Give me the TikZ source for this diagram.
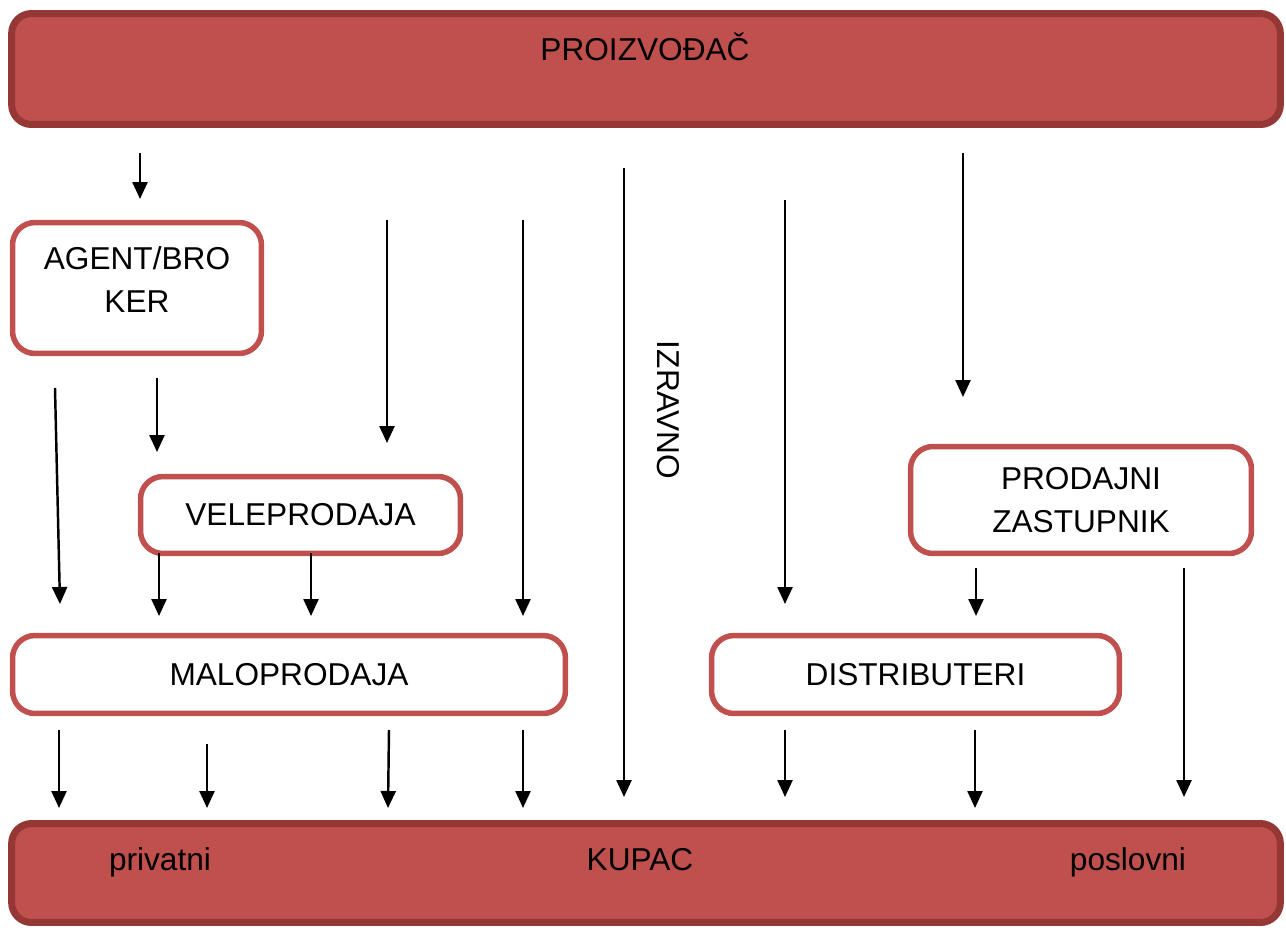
\documentclass[tikz,border=0pt]{standalone}
\usepackage{fontspec}
\setmainfont{Liberation Sans}
\usetikzlibrary{arrows.meta,shadows}

\definecolor{barFill}{HTML}{C0504D}
\definecolor{barEdge}{HTML}{953735}
\definecolor{boxEdge}{HTML}{C0504D}

\begin{document}
\begin{tikzpicture}[x=0.02cm, y=-0.02cm,
  every node/.style={font=\fontsize{18}{24.5}\selectfont, inner sep=0pt, outer sep=0pt},
  bar/.style={draw=barEdge, fill=barFill, line width=0.14cm, rounded corners=0.4cm,
    drop shadow={shadow xshift=0pt, shadow yshift=-0.07cm, fill=black!30, opacity=0.6}},
  box/.style={draw=boxEdge, fill=white, line width=0.11cm, rounded corners=0.45cm, align=center},
  flow/.style={-{Triangle[length=0.34cm,width=0.3cm]}, line width=1.4pt}]
\useasboundingbox (0,0) rectangle (1286,930);

% bars
\node[bar, minimum width=25.38cm, minimum height=2.22cm] (prod) at (646,69) {};
\node[anchor=base] (prodText) at (645,60) {PROIZVOĐAČ};

\node[bar, minimum width=25.38cm, minimum height=1.98cm] (kupac) at (646,873) {};
\node[anchor=base] (kupacText) at (640,870) {KUPAC};
\node[anchor=base] (privatni) at (160,870) {privatni};
\node[anchor=base] (poslovni) at (1128,870) {poslovni};

% boxes
\node[box, minimum width=4.98cm, minimum height=2.62cm] (agent) at (137,288) {};
\node[align=center] (agentText) at (137,280) {AGENT/BRO\\KER};
\node[box, minimum width=6.4cm, minimum height=1.54cm] (vele) at (300.5,515) {VELEPRODAJA};
\node[box, minimum width=11.06cm, minimum height=1.56cm] (malo) at (289,674.5) {MALOPRODAJA};
\node[box, minimum width=8.16cm, minimum height=1.56cm] (distr) at (915.5,674.5) {DISTRIBUTERI};
\node[box, minimum width=6.82cm, minimum height=2.14cm] (zast) at (1081,500) {PRODAJNI\\ZASTUPNIK};

\node[rotate=-90] (izravno) at (668,410) {IZRAVNO};

% arrows
\coordinate (t1) at (140,153); \coordinate (h1) at (140,199); \draw[flow] (t1) -- (h1);
\coordinate (t2) at (55,388); \coordinate (h2) at (60,604); \draw[flow] (t2) -- (h2);
\coordinate (t3) at (157,378); \coordinate (h3) at (157,452); \draw[flow] (t3) -- (h3);
\coordinate (t4) at (387,220); \coordinate (h4) at (387,443); \draw[flow] (t4) -- (h4);
\coordinate (t5) at (523,220); \coordinate (h5) at (523,616); \draw[flow] (t5) -- (h5);
\coordinate (t6) at (624,168); \coordinate (h6) at (624,797); \draw[flow] (t6) -- (h6);
\coordinate (t7) at (785,200); \coordinate (h7) at (785,604); \draw[flow] (t7) -- (h7);
\coordinate (t8) at (963,153); \coordinate (h8) at (963,397); \draw[flow] (t8) -- (h8);

\coordinate (h9) at (159,616); \draw[flow] (vele.south -| h9) -- (h9);
\coordinate (h10) at (311,616); \draw[flow] (vele.south -| h10) -- (h10);
\coordinate (t11) at (976,568); \coordinate (h11) at (976,616); \draw[flow] (t11) -- (h11);
\coordinate (t12) at (1184,568); \coordinate (h12) at (1184,797); \draw[flow] (t12) -- (h12);

\coordinate (t13) at (59,730); \coordinate (h13) at (59,808); \draw[flow] (t13) -- (h13);
\coordinate (t14) at (207,744); \coordinate (h14) at (207,808); \draw[flow] (t14) -- (h14);
\coordinate (t15) at (389,730); \coordinate (h15) at (388,808); \draw[flow] (t15) -- (h15);
\coordinate (t16) at (523,730); \coordinate (h16) at (523,808); \draw[flow] (t16) -- (h16);
\coordinate (t17) at (785,730); \coordinate (h17) at (785,797); \draw[flow] (t17) -- (h17);
\coordinate (t18) at (975,730); \coordinate (h18) at (975,808); \draw[flow] (t18) -- (h18);
\end{tikzpicture}
\end{document}
